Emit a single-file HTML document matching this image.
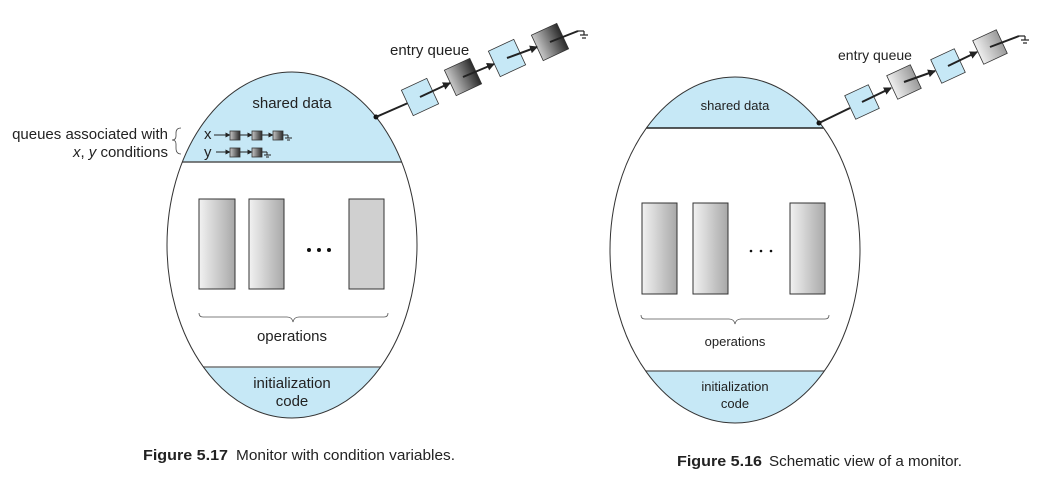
<!DOCTYPE html>
<html><head><meta charset="utf-8"><style>
html,body{margin:0;padding:0;background:#fff;}
svg{display:block;font-family:"Liberation Sans",Arial,sans-serif;}
</style></head><body>
<svg width="1057" height="485" viewBox="0 0 1057 485" xmlns="http://www.w3.org/2000/svg">
<defs>
<linearGradient id="dk" x1="0" x2="1" y1="0" y2="0"><stop offset="0" stop-color="#c8c8c8"/><stop offset="1" stop-color="#2a2a2a"/></linearGradient>
<linearGradient id="lg" x1="0" x2="1" y1="0" y2="0"><stop offset="0" stop-color="#efefef"/><stop offset="1" stop-color="#9a9a9a"/></linearGradient>
<linearGradient id="rc" x1="0" x2="1" y1="0" y2="0"><stop offset="0" stop-color="#f2f2f2"/><stop offset="1" stop-color="#a8a8a8"/></linearGradient>
<clipPath id="cl"><ellipse cx="292" cy="245" rx="125" ry="173"/></clipPath>
<clipPath id="cr"><ellipse cx="735" cy="250" rx="125" ry="173"/></clipPath>
<marker id="ah" markerWidth="8" markerHeight="8" refX="7" refY="4" orient="auto" markerUnits="userSpaceOnUse"><path d="M0,0 L8,4 L0,8 z" fill="#222"/></marker>
<marker id="sa" markerWidth="5" markerHeight="5" refX="4.5" refY="2.5" orient="auto" markerUnits="userSpaceOnUse"><path d="M0,0 L5,2.5 L0,5 z" fill="#222"/></marker>
</defs>

<!-- LEFT -->
<g clip-path="url(#cl)">
<rect x="160" y="60" width="270" height="102" fill="#c6e8f6"/>
<rect x="160" y="367" width="270" height="60" fill="#c6e8f6"/>
</g>
<line x1="160" y1="162" x2="430" y2="162" stroke="#555" stroke-width="1.5" clip-path="url(#cl)"/>
<line x1="160" y1="367" x2="430" y2="367" stroke="#777" stroke-width="1.5" clip-path="url(#cl)"/>
<ellipse cx="292" cy="245" rx="125" ry="173" fill="none" stroke="#333" stroke-width="1"/>
<text x="292" y="108" font-size="15" fill="#222" text-anchor="middle">shared data</text>
<rect x="199" y="199" width="36" height="90" fill="url(#rc)" stroke="#333"/>
<rect x="249" y="199" width="35" height="90" fill="url(#rc)" stroke="#333"/>
<rect x="349" y="199" width="35" height="90" fill="#d0d0d0" stroke="#333"/>
<circle cx="309" cy="250" r="2" fill="#111"/><circle cx="319" cy="250" r="2" fill="#111"/><circle cx="329" cy="250" r="2" fill="#111"/>
<path d="M199,313 q0,4 4,4 H287 q5,0 6,5 q1,-5 6,-5 H384 q4,0 4,-4" fill="none" stroke="#555" stroke-width="0.8"/>
<text x="292" y="341" font-size="15" fill="#222" text-anchor="middle">operations</text>
<text x="292" y="388" font-size="15" fill="#222" text-anchor="middle">initialization</text>
<text x="292" y="406" font-size="15" fill="#222" text-anchor="middle">code</text>
<!-- small queues -->
<text x="168" y="139" font-size="15" fill="#222" text-anchor="end">queues associated with</text>
<text x="168" y="157" font-size="15" fill="#222" text-anchor="end"><tspan font-style="italic">x</tspan>, <tspan font-style="italic">y</tspan> conditions</text>
<path d="M181,128 q-5,0 -5,5 v3 q0,4 -4,4 q4,0 4,4 v4 q0,6 5,6" fill="none" stroke="#444" stroke-width="0.8"/>
<text x="204" y="139" font-size="15" fill="#222">x</text>
<text x="204" y="157" font-size="15" fill="#222">y</text>
<g stroke="#222" stroke-width="1">
<line x1="214" y1="135" x2="230" y2="135" marker-end="url(#sa)"/>
<line x1="240" y1="135" x2="252" y2="135" marker-end="url(#sa)"/>
<line x1="262" y1="135" x2="273" y2="135" marker-end="url(#sa)"/>
<line x1="283" y1="135" x2="288" y2="135"/><line x1="288" y1="135" x2="288" y2="138"/><line x1="285" y1="138" x2="292" y2="138"/><line x1="287" y1="140" x2="290" y2="140"/>
<line x1="216" y1="152" x2="230" y2="152" marker-end="url(#sa)"/>
<line x1="240" y1="152" x2="252" y2="152" marker-end="url(#sa)"/>
<line x1="262" y1="152" x2="267" y2="152"/><line x1="267" y1="152" x2="267" y2="155"/><line x1="264" y1="155" x2="271" y2="155"/><line x1="266" y1="157" x2="269" y2="157"/>
</g>
<g stroke="#333" stroke-width="0.8" fill="url(#dk)">
<rect x="230" y="131" width="10" height="9"/><rect x="252" y="131" width="10" height="9"/><rect x="273" y="131" width="10" height="9"/>
<rect x="230" y="148" width="10" height="9"/><rect x="252" y="148" width="10" height="9"/>
</g>
<!-- entry queue left -->
<text x="390" y="55" font-size="15" fill="#222">entry queue</text>
<circle cx="376" cy="117" r="2.5" fill="#111"/>
<line x1="376" y1="117" x2="408" y2="103" stroke="#222" stroke-width="2"/>
<g stroke="#333" stroke-width="0.8">
<rect x="-14" y="-14" width="28" height="28" fill="#c6e8f6" transform="translate(420,97) rotate(-25)"/>
<rect x="-14" y="-14" width="28" height="28" fill="url(#dk)" transform="translate(463,77) rotate(-25)"/>
<rect x="-14" y="-14" width="28" height="28" fill="#c6e8f6" transform="translate(507,58) rotate(-25)"/>
<rect x="-14" y="-14" width="28" height="28" fill="url(#dk)" transform="translate(550,42) rotate(-25)"/>
</g>
<g stroke="#222" stroke-width="2">
<line x1="420" y1="97" x2="450" y2="83" marker-end="url(#ah)"/>
<line x1="463" y1="77" x2="494" y2="64" marker-end="url(#ah)"/>
<line x1="507" y1="58" x2="537" y2="47" marker-end="url(#ah)"/>
<line x1="550" y1="42" x2="578" y2="31"/>
</g>
<g stroke="#222" stroke-width="1.2"><line x1="578" y1="31" x2="584" y2="31"/><line x1="584" y1="31" x2="584" y2="35"/><line x1="580" y1="35" x2="588" y2="35"/><line x1="582" y1="38" x2="586" y2="38"/></g>

<!-- RIGHT -->
<g clip-path="url(#cr)">
<rect x="600" y="70" width="270" height="58" fill="#c6e8f6"/>
<rect x="600" y="371" width="270" height="60" fill="#c6e8f6"/>
</g>
<line x1="600" y1="128" x2="870" y2="128" stroke="#222" stroke-width="1.5" clip-path="url(#cr)"/>
<line x1="600" y1="371" x2="870" y2="371" stroke="#555" stroke-width="1.2" clip-path="url(#cr)"/>
<ellipse cx="735" cy="250" rx="125" ry="173" fill="none" stroke="#333" stroke-width="1"/>
<text x="735" y="110" font-size="13" fill="#222" text-anchor="middle">shared data</text>
<rect x="642" y="203" width="35" height="91" fill="url(#rc)" stroke="#333"/>
<rect x="693" y="203" width="35" height="91" fill="url(#rc)" stroke="#333"/>
<rect x="790" y="203" width="35" height="91" fill="url(#rc)" stroke="#333"/>
<circle cx="751" cy="251" r="1.3" fill="#111"/><circle cx="761" cy="251" r="1.3" fill="#111"/><circle cx="771" cy="251" r="1.3" fill="#111"/>
<path d="M641,315 q0,4 4,4 H729 q5,0 6,5 q1,-5 6,-5 H825 q4,0 4,-4" fill="none" stroke="#555" stroke-width="0.8"/>
<text x="735" y="346" font-size="13" fill="#222" text-anchor="middle">operations</text>
<text x="735" y="391" font-size="13" fill="#222" text-anchor="middle">initialization</text>
<text x="735" y="408" font-size="13" fill="#222" text-anchor="middle">code</text>
<text x="838" y="60" font-size="14" fill="#222">entry queue</text>
<circle cx="819" cy="123" r="2.5" fill="#111"/>
<line x1="819" y1="123" x2="850" y2="108" stroke="#222" stroke-width="2"/>
<g stroke="#333" stroke-width="0.8">
<rect x="-13" y="-13" width="26" height="26" fill="#c6e8f6" transform="translate(862,102) rotate(-25)"/>
<rect x="-13" y="-13" width="26" height="26" fill="url(#lg)" transform="translate(904,82) rotate(-25)"/>
<rect x="-13" y="-13" width="26" height="26" fill="#c6e8f6" transform="translate(948,66) rotate(-25)"/>
<rect x="-13" y="-13" width="26" height="26" fill="url(#lg)" transform="translate(990,47) rotate(-25)"/>
</g>
<g stroke="#222" stroke-width="2">
<line x1="862" y1="102" x2="891" y2="88" marker-end="url(#ah)"/>
<line x1="904" y1="82" x2="935" y2="71" marker-end="url(#ah)"/>
<line x1="948" y1="66" x2="977" y2="52" marker-end="url(#ah)"/>
<line x1="990" y1="47" x2="1019" y2="36"/>
</g>
<g stroke="#222" stroke-width="1.2"><line x1="1019" y1="36" x2="1025" y2="36"/><line x1="1025" y1="36" x2="1025" y2="40"/><line x1="1021" y1="40" x2="1029" y2="40"/><line x1="1023" y1="43" x2="1027" y2="43"/></g>

<!-- captions -->
<text x="143" y="460" font-size="14.5" font-weight="bold" fill="#222" textLength="85" lengthAdjust="spacingAndGlyphs">Figure 5.17</text>
<text x="236" y="460" font-size="14.5" fill="#222" textLength="219" lengthAdjust="spacingAndGlyphs">Monitor with condition variables.</text>
<text x="677" y="466" font-size="14.5" font-weight="bold" fill="#222" textLength="85" lengthAdjust="spacingAndGlyphs">Figure 5.16</text>
<text x="769" y="466" font-size="14.5" fill="#222" textLength="193" lengthAdjust="spacingAndGlyphs">Schematic view of a monitor.</text>
</svg>
</body></html>
